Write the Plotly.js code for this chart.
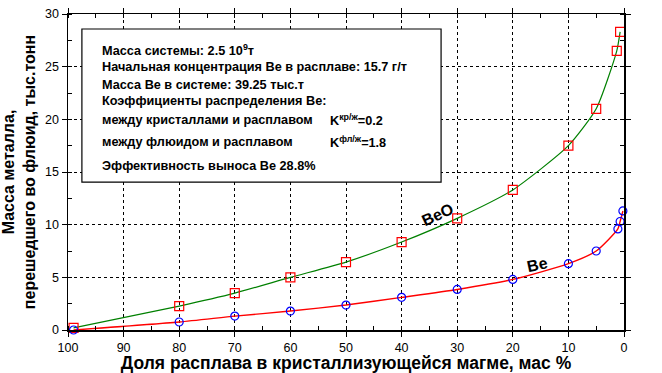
<!DOCTYPE html>
<html>
<head>
<meta charset="utf-8">
<script src="https://cdn.plot.ly/plotly-3.0.1.min.js"></script>
<style>html,body{margin:0;padding:0;background:#fff;}#chart{width:662px;height:373px;}</style>
</head>
<body>
<div id="chart"></div>
<script>
// Доля расплава (%), BeO series
const beoX = [99, 80, 70, 60, 50, 40, 30, 20, 10, 5, 1.3, 0.7];
const beoY = [0.2, 2.27, 3.5, 5.0, 6.45, 8.35, 10.6, 13.3, 17.5, 21.0, 26.5, 28.3];
// Be series
const beX = [99, 80, 70, 60, 50, 40, 30, 20, 10, 5, 1.1, 0.7, 0.2];
const beY = [0.0, 0.76, 1.32, 1.8, 2.37, 3.1, 3.85, 4.8, 6.3, 7.5, 9.6, 10.3, 11.3];

const xTicks = [100, 90, 80, 70, 60, 50, 40, 30, 20, 10, 0];
const yTicks = [0, 5, 10, 15, 20, 25, 30];

const boxLines = [
  "Масса системы: 2.5 10<sup>9</sup>т",
  "Начальная концентрация Ве в расплаве: 15.7 г/т",
  "Масса Ве в системе: 39.25 тыс.т",
  "Коэффициенты распределения Ве:",
  "между кристаллами и расплавом",
  "между флюидом и расплавом",
  "Эффективность выноса Ве 28.8%"
];
const coefTexts = ["K<sup>кр/ж</sup>=0.2", "K<sup>фл/ж</sup>=1.8"];

const FONT = "Liberation Sans, Arial, sans-serif";

const traces = [
  {x: beoX, y: beoY, mode: 'lines', line: {color: '#008000', width: 1.2, shape: 'spline', smoothing: 0.6}, hoverinfo: 'skip', showlegend: false},
  {x: beX, y: beY, mode: 'lines', line: {color: '#ff0000', width: 1.4, shape: 'spline', smoothing: 0.6}, hoverinfo: 'skip', showlegend: false},
  {x: beoX, y: beoY, mode: 'markers', cliponaxis: false, marker: {symbol: 'square-open', size: 9, color: '#ff0000', line: {width: 1.2}}, showlegend: false},
  {x: beX, y: beY, mode: 'markers', cliponaxis: false, marker: {symbol: 'circle-open', size: 8, color: '#0000ff', line: {width: 1.2}}, showlegend: false}
];

const lineY = [0.886, 0.832, 0.774, 0.724, 0.665, 0.595, 0.519];
const annotations = boxLines.map((t, i) => ({
  xref: 'paper', yref: 'paper', x: 0.0576, y: lineY[i], xanchor: 'left', yanchor: 'middle',
  text: '<b>' + t + '</b>', showarrow: false, font: {family: FONT, size: 12.7, color: '#000'}
}));
coefTexts.forEach((t, i) => annotations.push({
  xref: 'paper', yref: 'paper', x: 0.468, y: lineY[4 + i], xanchor: 'left', yanchor: 'middle',
  text: '<b>' + t + '</b>', showarrow: false, font: {family: FONT, size: 12.7, color: '#000'}
}));
annotations.push({xref: 'x', yref: 'y', x: 33.5, y: 11.0, text: '<b>BeO</b>', showarrow: false, textangle: -25, font: {family: FONT, size: 16, color: '#000'}});
annotations.push({xref: 'x', yref: 'y', x: 15.5, y: 6.2, text: '<b>Be</b>', showarrow: false, textangle: -12, font: {family: FONT, size: 16, color: '#000'}});

const layout = {
  width: 662, height: 373,
  margin: {l: 68, r: 38, t: 14, b: 43},
  paper_bgcolor: '#fff', plot_bgcolor: '#fff',
  font: {family: FONT, color: '#000'},
  xaxis: {
    range: [100, 0], tickvals: xTicks, ticktext: xTicks.map(String),
    ticks: 'outside', ticklen: 5, tickcolor: '#000', tickwidth: 1,
    showline: true, linecolor: '#000', linewidth: 1.5, mirror: 'ticks',
    showgrid: true, gridcolor: '#000', griddash: 'dot', gridwidth: 1,
    zeroline: false,
    tickfont: {family: FONT, size: 12.5, color: '#000'},
    minor: {dtick: 5, ticks: 'inside', ticklen: 4, tickcolor: '#000', showgrid: false},
    title: {text: '<b>Доля расплава в кристаллизующейся магме, мас %</b>', font: {family: FONT, size: 17.5, color: '#000'}, standoff: 3}
  },
  yaxis: {
    range: [0, 30], tickvals: yTicks, ticktext: yTicks.map(String),
    ticks: 'outside', ticklen: 5, tickcolor: '#000', tickwidth: 1,
    showline: true, linecolor: '#000', linewidth: 1.5, mirror: 'ticks',
    showgrid: true, gridcolor: '#000', griddash: 'dot', gridwidth: 1,
    zeroline: false,
    tickfont: {family: FONT, size: 12.5, color: '#000'},
    minor: {dtick: 2.5, ticks: 'inside', ticklen: 4, tickcolor: '#000', showgrid: false},
    title: {text: '<b>Масса металла,<br>перешедшего во флюид, тыс.тонн</b>', font: {family: FONT, size: 16, color: '#000'}, standoff: 6}
  },
  shapes: [{type: 'rect', xref: 'paper', yref: 'paper', x0: 0.025, x1: 0.671, y0: 0.468, y1: 0.9525,
            line: {color: '#000', width: 1.2}, fillcolor: '#fff', layer: 'above'}],
  annotations: annotations,
  showlegend: false
};

Plotly.newPlot('chart', traces, layout, {displayModeBar: false, staticPlot: true});
</script>
</body>
</html>
